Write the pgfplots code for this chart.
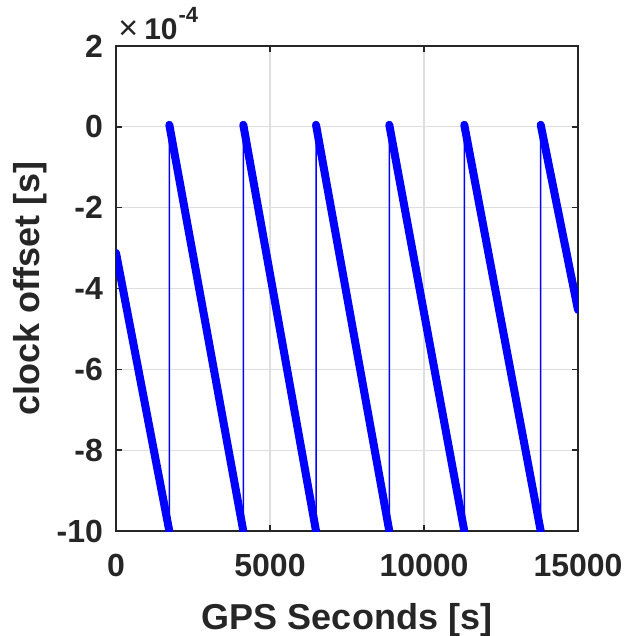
\documentclass[border=0pt]{standalone}
\usepackage{pgfplots}
\pgfplotsset{compat=1.18}
\usepackage{fontspec}
\setmainfont{Liberation Sans}

\definecolor{axisgray}{RGB}{38,38,38}
\definecolor{gridgray}{RGB}{222,222,222}

% receiver clock offset: linear drift, reset by 1 ms at each jump
\pgfplotstableread{
t      off
0      -3.12e-4
1731   -10e-4
1731    0.05e-4
4133   -10e-4
4133    0.05e-4
6494   -10e-4
6494    0.05e-4
8873   -10e-4
8873    0.05e-4
11308  -10e-4
11308   0.05e-4
13789  -10e-4
13789   0.05e-4
15000  -4.53e-4
}\clocktrace

% the same samples, drift segments only
\pgfplotstableread{
t      off
0      -3.12e-4
1731   -10e-4
1731    nan
1731    0.05e-4
4133   -10e-4
4133    nan
4133    0.05e-4
6494   -10e-4
6494    nan
6494    0.05e-4
8873   -10e-4
8873    nan
8873    0.05e-4
11308  -10e-4
11308   nan
11308   0.05e-4
13789  -10e-4
13789   nan
13789   0.05e-4
15000  -4.53e-4
}\clocksegments

\begin{document}
\begin{tikzpicture}
\begin{axis}[
  scale only axis,
  width=231pt, height=242.5pt,
  xmin=0, xmax=15000, ymin=-10e-4, ymax=2e-4,
  xtick={0,5000,10000,15000},
  xticklabels={0,5000,10000,15000},
  ytick={-10e-4,-8e-4,-6e-4,-4e-4,-2e-4,0,2e-4},
  yticklabels={-10,-8,-6,-4,-2,0,2},
  scaled x ticks=false, scaled y ticks=false,
  tick align=inside,
  major tick length=3pt,
  grid=major,
  grid style={draw=gridgray, line width=0.6pt},
  axis line style={draw=axisgray, line width=0.9pt},
  every tick/.style={draw=axisgray, line width=0.8pt},
  tick label style={font=\bfseries\fontsize{16}{17}\selectfont, text=axisgray},
  xticklabel style={anchor=north, yshift=-8pt},
  yticklabel style={anchor=east, xshift=-3pt},
  xlabel={GPS Seconds [s]},
  ylabel={clock offset [s]},
  label style={font=\bfseries\fontsize{18}{20}\selectfont, text=axisgray},
  xlabel style={at={(axis description cs:0.5,-0.183)}, anchor=center},
  ylabel style={at={(axis description cs:-0.186,0.5)}, anchor=center},
  unbounded coords=jump,
]
\addplot[blue, line width=0.75pt] table[x=t, y=off] {\clocktrace};
\addplot[blue, line width=4pt, line cap=round, line join=round] table[x=t, y=off] {\clocksegments};
\end{axis}
% common exponent of the y tick labels
\node[anchor=base west, inner sep=0pt, text=axisgray, xshift=1pt, yshift=3pt]
  at (current axis.north west)
  {{\fontsize{17}{18}\selectfont\mdseries ×}\hspace{3pt}{\fontsize{15}{16}\selectfont\bfseries 10}\hspace{0.5pt}\raisebox{8.5pt}{\fontsize{11}{12}\selectfont\bfseries -4}};
\pgfresetboundingbox
\path ([xshift=-58pt,yshift=-52.5pt]current axis.south west)
  rectangle ([xshift=23pt,yshift=23pt]current axis.north east);
\end{tikzpicture}
\end{document}
